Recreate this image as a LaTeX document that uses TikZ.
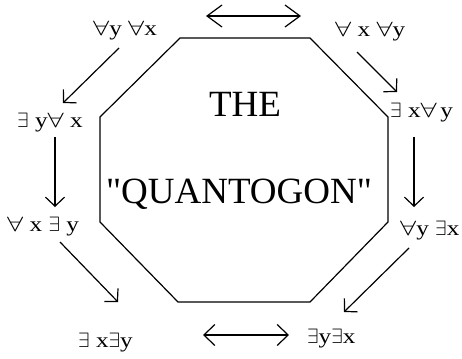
\documentclass[tikz,border=0pt]{standalone}
\usepackage{fontspec}
\setmainfont{Liberation Serif}
\newfontfamily\qfont[FakeStretch=1.2]{Liberation Serif}
\usepackage{tikz}
\usetikzlibrary{
    arrows.meta,
    positioning,
    calc
}
\newcommand{\fa}{\scalebox{1.4}[1]{$\forall$}}
\newcommand{\ex}{$\exists$}
\tikzset{
    quant/.style={
        font=\qfont\fontsize{21}{23}\selectfont,
        inner sep=0pt,
        anchor=base west,
    },
    title/.style={
        font=\fontsize{37}{40}\selectfont,
        inner sep=0pt,
        anchor=base,
    },
    step edge/.style={
        line width=1.2pt,
        -{Straight Barb[length=9pt,width=19pt,line width=1.2pt]},
    },
    swap edge/.style={
        line width=1.2pt,
        {Straight Barb[length=11pt,width=21pt,line width=1.2pt]}-{Straight Barb[length=11pt,width=21pt,line width=1.2pt]},
    },
    wide swap edge/.style={
        swap edge,
        {Straight Barb[length=15pt,width=22pt,line width=1.2pt]}-{Straight Barb[length=15pt,width=22pt,line width=1.2pt]},
    },
}
\begin{document}
\begin{tikzpicture}[x=1pt,y=-1pt]
    \useasboundingbox (0,0) rectangle (462,358);

    % the octagon
    \coordinate (o1) at (180,38);
    \coordinate (o2) at (310,38);
    \coordinate (o3) at (388,117);
    \coordinate (o4) at (388,222);
    \coordinate (o5) at (310,302);
    \coordinate (o6) at (178,302);
    \coordinate (o7) at (100,222);
    \coordinate (o8) at (100,117);
    \draw[line width=1.2pt,line join=miter] (o1) -- (o2) -- (o3) -- (o4) -- (o5) -- (o6) -- (o7) -- (o8) -- cycle;

    \node[title] (the) at (245,117) {THE};
    \node[title] (quantogon) at (239,203) {\textquotedbl QUANTOGON\textquotedbl};

    % the quantifier orders
    \node[quant] (fyfx) at (93,36) {\fa y \fa x};
    \node[quant] (eyfx) at (17,128) {\ex\ y\fa\ x};
    \node[quant] (fxey) at (7,231) {\fa\ x \ex\ y};
    \node[quant] (exey) at (78,347) {\ex\ x\ex y};
    \node[quant] (fxfy) at (335,37) {\fa\ x \fa y};
    \node[quant] (exfy) at (390,118) {\ex\ x\fa\,y};
    \node[quant] (fyex) at (400,235) {\fa y \ex x};
    \node[quant] (eyex) at (307,343) {\ex y\ex x};

    % arrow ends
    \coordinate (s1) at (119,48);  \coordinate (t1) at (63,103);
    \coordinate (s2) at (55,137);  \coordinate (t2) at (55,207);
    \coordinate (s3) at (60,242);  \coordinate (t3) at (118,302);
    \coordinate (s4) at (357,52);  \coordinate (t4) at (397,92);
    \coordinate (s5) at (414,137); \coordinate (t5) at (414,207);
    \coordinate (s6) at (409,248); \coordinate (t6) at (344,312);
    \coordinate (u1) at (206,16);  \coordinate (u2) at (301,16);
    \coordinate (v1) at (203,335); \coordinate (v2) at (289,335);

    \draw[step edge] (s1) -- (t1);
    \draw[step edge] (s2) -- (t2);
    \draw[step edge] (s3) -- (t3);
    \draw[step edge] (s4) -- (t4);
    \draw[step edge] (s5) -- (t5);
    \draw[step edge] (s6) -- (t6);

    \draw[wide swap edge] (u1) -- (u2);
    \draw[swap edge] (v1) -- (v2);
\end{tikzpicture}
\end{document}
